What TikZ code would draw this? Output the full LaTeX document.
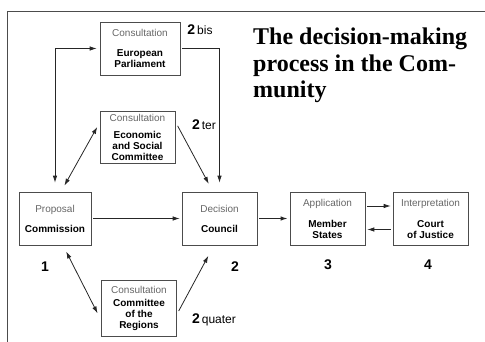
\documentclass[tikz,border=0pt]{standalone}
\usepackage{fontspec}
\setmainfont{Liberation Serif}
\setsansfont{Liberation Sans}
\usetikzlibrary{arrows.meta}
\newcommand\headtext[1]{{\mdseries\color{black!60}#1}}
\newcommand\bignum[1]{{\bfseries\fontsize{14}{14}\selectfont#1}}

\begin{document}
\begin{tikzpicture}[x=1pt,y=-1pt,>={Latex[length=7pt,width=4.5pt]},
  box/.style={draw=black!70,line width=0.6pt,minimum width=75pt,minimum height=53pt,
    align=center,inner sep=1pt,font=\sffamily\bfseries\fontsize{10}{11}\selectfont},
  con/.style={black!85,line width=0.8pt,shorten >=2pt,shorten <=2pt},
  num/.style={font=\sffamily\bfseries\fontsize{14}{14}\selectfont},
  tag/.style={font=\sffamily\fontsize{12}{12}\selectfont}]
\useasboundingbox (0,0) rectangle (485,342);
\draw[black!70,line width=0.6pt] (7,342) -- (7,11) -- (485,11);
\node[box,minimum width=80pt] (ep) at (140,48.5) {\headtext{Consultation}\\[9pt]European\\Parliament};
\node[box,minimum height=52pt] (esc) at (137.5,137.5) {\headtext{Consultation}\\[6pt]Economic\\and Social\\Committee};
\node[box,minimum width=72pt] (com) at (55,218.5) {\headtext{Proposal}\\[9pt]Commission};
\node[box] (cou) at (219.5,218.5) {\headtext{Decision}\\[9pt]Council};
\node[box] (ms) at (327.5,218.5) {\headtext{Application}\\[10pt]Member\\States};
\node[box] (cj) at (430.5,218.5) {\headtext{Interpretation}\\[10pt]Court\\of Justice};
\node[box,minimum height=56pt] (cor) at (139,308.5) {\headtext{Consultation}\\[2pt]Committee\\of the\\Regions};
\node[tag] (bis) at (200,30) {\bignum{2}\,bis};
\node[tag] (ter) at (204,125) {\bignum{2}\,ter};
\node[tag] (quater) at (214,320) {\bignum{2}\,quater};
\node[num] (n1) at (45,267) {1};
\node[num] (n2) at (235,267) {2};
\node[num] (n3) at (328,265) {3};
\node[num] (n4) at (428,265) {4};
\node[anchor=north west,align=left,inner sep=0,font=\bfseries\fontsize{24}{26.5}\selectfont] (title) at (253,28)
  {The decision-making\\process in the Com-\\munity};
\draw[con,<->,shorten <=9pt,shorten >=3pt] (com.north) |- (ep.west);
\draw[con,->,shorten >=9pt] (ep.east) -| (cou.north);
\draw[con,<->,shorten <=7pt,shorten >=5pt] ([xshift=6pt]com.north) -- ([yshift=15pt]esc.west);
\draw[con,->,shorten <=5pt,shorten >=9pt] ([yshift=16pt]esc.east) -- ([xshift=-6.5pt]cou.north);
\draw[con,<->,shorten <=7pt,shorten >=8pt] ([xshift=8pt]com.south) -- ([yshift=-12pt]cor.west);
\draw[con,->,shorten <=4pt,shorten >=12pt] ([yshift=-6pt]cor.east) -- ([xshift=-5.5pt]cou.south);
\draw[con,->] (com.east) -- (cou.west);
\draw[con,->,line width=1.2pt] (cou.east) -- (ms.west);
\draw[con,->] ([yshift=12.5pt]ms.east) -- ([yshift=12.5pt]cj.west);
\draw[con,<-] ([yshift=-11pt]ms.east) -- ([yshift=-11pt]cj.west);
\end{tikzpicture}
\end{document}
